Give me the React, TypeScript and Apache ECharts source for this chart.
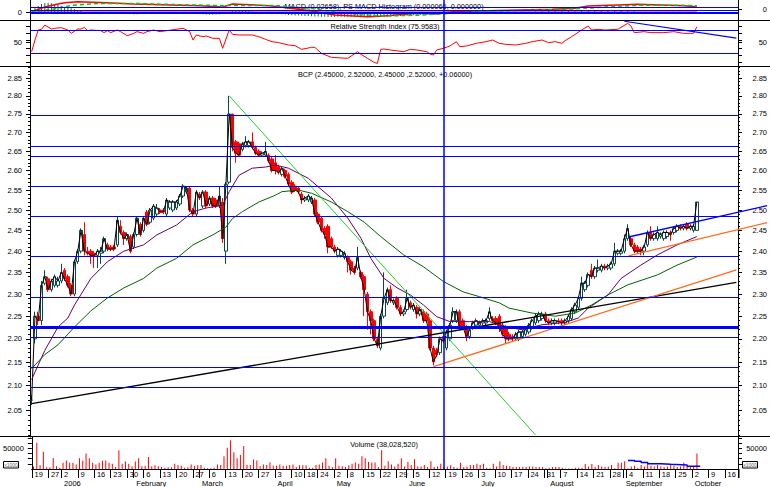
import React, { useEffect, useRef } from 'react';
import * as echarts from 'echarts';

// ---------- categories ----------
const FIRST_DAY = [2005, 11, 19];
const HOLIDAYS = ['2005-12-26', '2006-04-14', '2006-04-17', '2006-05-01'];
const N_SLOTS = 215;
const N_SLOTS_WIDE = 224;
const MONTH_NAMES = ['January', 'February', 'March', 'April', 'May', 'June', 'July', 'August', 'September', 'October', 'November', 'December'];

// ---------- tick labels ----------
const PRICE_TICKS = [2.05, 2.10, 2.15, 2.20, 2.25, 2.30, 2.35, 2.40, 2.45, 2.50, 2.55, 2.60, 2.65, 2.70, 2.75, 2.80, 2.85];
const PRICE_MIN = 1.9958;
const PRICE_MAX = 2.8813;
const RSI_TICKS = [15, 27.5, 40, 50, 52.5, 65, 77.5];
const VOL_TICKS = [12500, 25000, 37500, 50000, 62500, 75000];

// ---------- titles ----------
const TITLE_MACD = 'MACD (0.02658), PS MACD Histogram (0.000066, 0.000000)';
const TITLE_RSI = 'Relative Strength Index (75.9583)';
const TITLE_MAIN = 'BCP (2.45000, 2.52000, 2.45000 ,2.52000, +0.06000)';
const TITLE_VOL = 'Volume (38,028,520)';

// ---------- price candles [open, close, low, high] ----------
const candles = [
  [2.07, 2.07, 2.06, 2.08], [2.20, 2.25, 2.19, 2.26], [2.25, 2.24, 2.23, 2.26], [2.24, 2.32, 2.23, 2.33], [2.325, 2.34, 2.32, 2.355],
  [2.335, 2.31, 2.305, 2.34], [2.31, 2.33, 2.305, 2.335], [2.32, 2.34, 2.315, 2.345], [2.32, 2.33, 2.315, 2.34], [2.33, 2.35, 2.325, 2.37],
  [2.355, 2.335, 2.33, 2.36], [2.34, 2.32, 2.315, 2.345], [2.32, 2.30, 2.295, 2.325], [2.30, 2.375, 2.295, 2.38], [2.375, 2.40, 2.37, 2.405],
  [2.40, 2.45, 2.395, 2.455], [2.44, 2.40, 2.39, 2.47], [2.40, 2.395, 2.39, 2.41], [2.40, 2.39, 2.37, 2.405], [2.395, 2.39, 2.36, 2.40],
  [2.39, 2.40, 2.36, 2.405], [2.395, 2.40, 2.37, 2.41], [2.40, 2.43, 2.395, 2.435], [2.415, 2.405, 2.40, 2.42], [2.41, 2.405, 2.40, 2.415],
  [2.41, 2.405, 2.40, 2.415], [2.415, 2.475, 2.41, 2.485], [2.46, 2.445, 2.44, 2.475], [2.445, 2.43, 2.415, 2.45], [2.43, 2.44, 2.425, 2.445],
  [2.435, 2.40, 2.395, 2.44], [2.41, 2.44, 2.405, 2.445], [2.44, 2.48, 2.435, 2.485], [2.465, 2.44, 2.435, 2.47], [2.45, 2.48, 2.445, 2.485],
  [2.495, 2.465, 2.46, 2.50], [2.47, 2.50, 2.465, 2.505], [2.48, 2.51, 2.475, 2.515], [2.49, 2.505, 2.485, 2.515], [2.50, 2.495, 2.49, 2.505],
  [2.50, 2.495, 2.49, 2.505], [2.49, 2.525, 2.485, 2.53], [2.505, 2.52, 2.50, 2.525], [2.50, 2.52, 2.495, 2.525], [2.505, 2.52, 2.50, 2.525],
  [2.515, 2.535, 2.51, 2.54], [2.535, 2.56, 2.53, 2.565], [2.545, 2.555, 2.54, 2.56], [2.555, 2.50, 2.495, 2.56], [2.50, 2.49, 2.485, 2.505],
  [2.49, 2.545, 2.485, 2.55], [2.54, 2.53, 2.525, 2.545], [2.51, 2.545, 2.505, 2.55], [2.545, 2.51, 2.505, 2.55], [2.515, 2.53, 2.51, 2.535],
  [2.53, 2.51, 2.505, 2.535], [2.525, 2.51, 2.505, 2.53], [2.51, 2.535, 2.505, 2.56], [2.52, 2.43, 2.42, 2.53], [2.40, 2.565, 2.37, 2.57],
  [2.57, 2.75, 2.565, 2.80], [2.75, 2.66, 2.65, 2.75], [2.675, 2.645, 2.62, 2.68], [2.67, 2.64, 2.635, 2.675], [2.655, 2.67, 2.65, 2.675],
  [2.665, 2.675, 2.66, 2.69], [2.665, 2.675, 2.66, 2.68], [2.675, 2.66, 2.655, 2.70], [2.66, 2.645, 2.64, 2.665], [2.65, 2.64, 2.635, 2.655],
  [2.64, 2.645, 2.635, 2.65], [2.64, 2.65, 2.635, 2.675], [2.64, 2.625, 2.62, 2.645], [2.63, 2.60, 2.595, 2.635], [2.62, 2.60, 2.59, 2.64],
  [2.61, 2.595, 2.59, 2.615], [2.59, 2.605, 2.585, 2.61], [2.60, 2.585, 2.58, 2.605], [2.59, 2.565, 2.56, 2.595], [2.57, 2.545, 2.54, 2.575],
  [2.56, 2.55, 2.545, 2.565], [2.555, 2.545, 2.54, 2.56], [2.54, 2.525, 2.515, 2.545], [2.525, 2.53, 2.52, 2.535], [2.525, 2.535, 2.52, 2.54],
  [2.52, 2.53, 2.515, 2.535], [2.525, 2.49, 2.485, 2.53], [2.49, 2.47, 2.465, 2.495], [2.48, 2.45, 2.445, 2.485], [2.455, 2.44, 2.43, 2.46],
  [2.46, 2.41, 2.395, 2.465], [2.43, 2.41, 2.405, 2.435], [2.41, 2.40, 2.395, 2.415], [2.39, 2.405, 2.385, 2.41], [2.39, 2.40, 2.385, 2.405],
  [2.385, 2.395, 2.38, 2.40], [2.385, 2.375, 2.35, 2.39], [2.375, 2.355, 2.345, 2.38], [2.36, 2.35, 2.345, 2.365], [2.36, 2.385, 2.355, 2.41],
  [2.35, 2.34, 2.335, 2.355], [2.34, 2.31, 2.25, 2.345], [2.30, 2.26, 2.22, 2.305], [2.26, 2.24, 2.21, 2.265], [2.24, 2.20, 2.195, 2.245],
  [2.20, 2.185, 2.18, 2.205], [2.18, 2.25, 2.175, 2.255], [2.25, 2.29, 2.245, 2.35], [2.28, 2.31, 2.275, 2.315], [2.31, 2.285, 2.28, 2.32],
  [2.28, 2.285, 2.275, 2.29], [2.29, 2.27, 2.265, 2.295], [2.27, 2.255, 2.25, 2.275], [2.255, 2.26, 2.25, 2.265], [2.265, 2.29, 2.26, 2.31],
  [2.28, 2.27, 2.265, 2.285], [2.265, 2.275, 2.26, 2.28], [2.27, 2.255, 2.245, 2.275], [2.255, 2.265, 2.25, 2.27], [2.26, 2.24, 2.235, 2.265],
  [2.255, 2.24, 2.235, 2.26], [2.24, 2.18, 2.175, 2.245], [2.18, 2.15, 2.143, 2.185], [2.175, 2.165, 2.16, 2.18], [2.17, 2.20, 2.165, 2.205],
  [2.205, 2.195, 2.19, 2.21], [2.18, 2.215, 2.175, 2.22], [2.20, 2.23, 2.195, 2.235], [2.24, 2.26, 2.235, 2.27], [2.24, 2.26, 2.235, 2.265],
  [2.26, 2.225, 2.22, 2.265], [2.24, 2.225, 2.22, 2.245], [2.225, 2.205, 2.195, 2.23], [2.205, 2.22, 2.20, 2.225], [2.225, 2.235, 2.22, 2.24],
  [2.23, 2.24, 2.225, 2.245], [2.23, 2.235, 2.225, 2.24], [2.235, 2.24, 2.23, 2.245], [2.235, 2.24, 2.23, 2.245], [2.245, 2.26, 2.24, 2.27],
  [2.245, 2.24, 2.235, 2.25], [2.245, 2.235, 2.23, 2.25], [2.25, 2.225, 2.215, 2.255], [2.23, 2.21, 2.205, 2.235], [2.225, 2.20, 2.19, 2.23],
  [2.21, 2.20, 2.195, 2.215], [2.205, 2.20, 2.195, 2.21], [2.20, 2.21, 2.195, 2.215], [2.20, 2.215, 2.195, 2.22], [2.205, 2.215, 2.20, 2.22],
  [2.21, 2.22, 2.205, 2.225], [2.215, 2.23, 2.21, 2.235], [2.225, 2.24, 2.22, 2.245], [2.235, 2.25, 2.23, 2.255], [2.24, 2.255, 2.235, 2.26],
  [2.245, 2.255, 2.24, 2.26], [2.255, 2.24, 2.235, 2.26], [2.24, 2.235, 2.23, 2.245], [2.235, 2.24, 2.23, 2.245], [2.235, 2.24, 2.23, 2.245],
  [2.24, 2.238, 2.232, 2.245], [2.24, 2.235, 2.23, 2.245], [2.235, 2.24, 2.23, 2.245], [2.24, 2.25, 2.235, 2.255], [2.245, 2.265, 2.24, 2.27],
  [2.26, 2.275, 2.255, 2.28], [2.27, 2.29, 2.265, 2.295], [2.29, 2.325, 2.285, 2.34], [2.31, 2.325, 2.305, 2.33], [2.32, 2.345, 2.315, 2.35],
  [2.355, 2.34, 2.335, 2.37], [2.34, 2.36, 2.335, 2.365], [2.355, 2.36, 2.35, 2.38], [2.355, 2.365, 2.35, 2.37], [2.365, 2.36, 2.355, 2.37],
  [2.36, 2.365, 2.355, 2.37], [2.36, 2.37, 2.355, 2.375], [2.37, 2.40, 2.365, 2.42], [2.395, 2.40, 2.39, 2.405], [2.395, 2.40, 2.39, 2.405],
  [2.40, 2.43, 2.395, 2.44], [2.43, 2.455, 2.425, 2.465], [2.43, 2.415, 2.41, 2.435], [2.415, 2.40, 2.395, 2.42], [2.41, 2.40, 2.395, 2.415],
  [2.405, 2.40, 2.39, 2.41], [2.40, 2.41, 2.39, 2.415], [2.415, 2.445, 2.41, 2.45], [2.445, 2.43, 2.425, 2.46], [2.43, 2.44, 2.425, 2.445],
  [2.43, 2.445, 2.425, 2.46], [2.435, 2.44, 2.43, 2.445], [2.43, 2.445, 2.425, 2.45], [2.435, 2.445, 2.43, 2.45], [2.445, 2.44, 2.425, 2.45],
  [2.445, 2.455, 2.44, 2.46], [2.45, 2.46, 2.445, 2.465], [2.46, 2.455, 2.45, 2.465], [2.455, 2.46, 2.45, 2.465], [2.465, 2.455, 2.45, 2.47],
  [2.455, 2.46, 2.45, 2.465], [2.45, 2.46, 2.445, 2.465], [2.45, 2.52, 2.45, 2.52],
];

// ---------- volume (x1000) ----------
const volumes = [
  6000, 64000, 9000, 42000, 4000, 4000, 27000, 7000, 3000, 15000,
  21000, 15000, 15000, 11000, 26000, 20000, 38000, 26000, 15000, 11000,
  15000, 20000, 21000, 15000, 13000, 5000, 46000, 13000, 18000, 13000,
  7000, 18000, 26000, 7000, 8000, 29000, 7000, 9000, 7000, 5000,
  3000, 4000, 4000, 13000, 9000, 8000, 3000, 4000, 11000, 8000,
  9000, 10000, 3000, 2000, 2000, 3000, 11000, 10000, 31000, 52000,
  70000, 41000, 26000, 34000, 56000, 10000, 10000, 23000, 21000, 7000,
  11000, 10000, 16000, 8000, 8000, 11000, 8000, 8000, 10000, 11000,
  5000, 9000, 9000, 9000, 3000, 3000, 10000, 11000, 16000, 26000,
  8000, 5000, 26000, 8000, 7000, 5000, 9000, 13000, 16000, 13000,
  31000, 26000, 17000, 16000, 16000, 5000, 46000, 8000, 19000, 11000,
  6000, 13000, 26000, 6000, 17000, 10000, 24000, 6000, 6000, 10000,
  5000, 19000, 5000, 6000, 13000, 5000, 6000, 9000, 5000, 3000,
  15000, 5000, 6000, 10000, 10000, 13000, 10000, 13000, 3000, 2000,
  13000, 6000, 19000, 10000, 8000, 7000, 5000, 5000, 5000, 5000,
  5000, 6000, 6000, 5000, 5000, 5000, 2000, 3000, 5000, 5000,
  5000, 3000, 1000, 1000, 1000, 3000, 3000, 3000, 12000, 6000,
  12000, 5000, 10000, 6000, 5000, 6000, 10000, 2000, 15000, 15000,
  19000, 2000, 6000, 8000, 3000, 10000, 6000, 15000, 8000, 6000,
  10000, 6000, 5000, 6000, 10000, 8000, 5000, 6000, 15000, 6000,
  5000, 6000, 38028,
];
const volTrend = [[181, 21000], [183, 19000], [185, 16000], [187, 13000], [191, 11500], [194, 10000], [199, 7000], [203, 7000]];

// ---------- moving averages [index, price] ----------
const purpleMA = [[0, 2.113], [4, 2.175], [8, 2.226], [11, 2.246], [13, 2.275], [18, 2.336], [23, 2.375], [28, 2.40], [34, 2.415], [38, 2.439], [44, 2.463], [49, 2.496], [53, 2.505], [58, 2.512], [60, 2.546], [63, 2.588], [67, 2.606], [71, 2.609], [74, 2.614], [78, 2.606], [84, 2.58], [91, 2.53], [96, 2.48], [100, 2.431], [103, 2.383], [107, 2.336], [111, 2.314], [115, 2.298], [119, 2.275], [123, 2.249], [127, 2.238], [133, 2.238], [139, 2.238], [145, 2.225], [149, 2.22], [155, 2.231], [162, 2.236], [166, 2.246], [169, 2.268], [175, 2.298], [179, 2.336], [185, 2.367], [190, 2.391], [196, 2.415], [202, 2.435]];
const greenMA = [[0, 2.136], [4, 2.166], [8, 2.187], [13, 2.226], [18, 2.262], [23, 2.291], [28, 2.314], [34, 2.336], [38, 2.36], [44, 2.383], [49, 2.415], [55, 2.439], [59, 2.458], [61, 2.479], [64, 2.496], [69, 2.52], [74, 2.537], [76, 2.546], [81, 2.55], [85, 2.542], [91, 2.52], [96, 2.496], [101, 2.47], [106, 2.435], [113, 2.391], [119, 2.363], [125, 2.329], [131, 2.305], [136, 2.294], [142, 2.28], [145, 2.268], [152, 2.257], [159, 2.25], [165, 2.257], [170, 2.275], [175, 2.298], [181, 2.321], [190, 2.344], [196, 2.367], [202, 2.386]];

// ---------- drawn trend lines [index, price] ----------
const greenTrend = [[60, 2.80], [153, 2.00]];
const blackTrend = [[0, 2.063], [214, 2.327]];
const orangeLower = [[122, 2.14], [214, 2.356]];
const orangeUpper = [[181, 2.389], [223, 2.469]];
const blueUpper = [[181, 2.434], [223, 2.511]];
const PRICE_LEVELS = [2.750, 2.677, 2.638, 2.558, 2.488, 2.393, 2.298, 2.235, 2.200, 2.144, 2.087];
const THICK_LEVEL = 2.235;
const MARKER_INDEX = 125;

// ---------- RSI ----------
const rsi = [[0, 33.5], [1, 53.4], [2, 70.5], [3, 71.7], [4, 79], [6, 72.2], [7, 73.4], [9, 74.5], [11, 70.5], [12, 64.8], [14, 72.2], [15, 72.2], [16, 75], [17, 69.4], [18, 70.5], [21, 69.4], [22, 66], [23, 69.4], [24, 66], [26, 70.5], [27, 67.7], [29, 60.8], [31, 64.8], [32, 67.7], [34, 64.8], [35, 67.7], [37, 70.5], [39, 67.7], [41, 69.4], [46, 73.4], [48, 67.7], [49, 53.4], [50, 62], [52, 59.1], [53, 60.3], [55, 56.3], [57, 56.3], [58, 39.2], [60, 70.5], [61, 63.1], [63, 62], [67, 62], [69, 59.1], [71, 54.6], [73, 50.6], [75, 48.9], [78, 44.9], [80, 43.7], [82, 37.5], [85, 40.9], [86, 40.9], [88, 30.6], [90, 26.1], [91, 23.8], [96, 22.1], [99, 33.5], [100, 28.9], [102, 22.1], [104, 15.2], [105, 13.5], [106, 37.5], [107, 38], [109, 36.3], [113, 33.5], [115, 37.5], [117, 36.3], [120, 33.5], [121, 29.5], [122, 27.8], [123, 36.3], [125, 39.2], [127, 43.2], [129, 50.6], [130, 42], [132, 43.2], [135, 47.7], [138, 50.6], [140, 53.4], [142, 47.7], [144, 46], [147, 44.9], [150, 47.7], [152, 50.6], [155, 53.4], [157, 48.9], [159, 50.6], [161, 47.7], [162, 52.3], [164, 59.1], [167, 70.5], [169, 77.4], [170, 70.5], [172, 71.7], [174, 70.5], [178, 71.7], [181, 81.9], [182, 77.4], [183, 66], [186, 67.7], [188, 66], [192, 66], [195, 67.7], [198, 64.8], [200, 64.8], [201, 64.8], [202, 75.96]];
const rsiTrend = [[180, 85.5], [214, 56.7]];
const RSI_LEVELS = [70, 30];

// ---------- MACD ----------
const macdLine = [[0, 0.0024], [4, 0.0215], [8, 0.0337], [10, 0.039], [14, 0.043], [21, 0.040], [31, 0.0337], [42, 0.030], [51, 0.0268], [58, 0.0215], [61, 0.0337], [72, 0.0268], [75, 0.0227], [85, 0.0053], [92, -0.011], [102, -0.0179], [107, -0.015], [117, -0.004], [123, -0.007], [128, 0.0024], [138, 0.0065], [158, 0.0122], [165, 0.0162], [169, 0.0256], [178, 0.0296], [184, 0.0325], [198, 0.0268], [202, 0.0227]];
const macdSignal = [[0, 0.0], [6, 0.012], [12, 0.028], [20, 0.036], [31, 0.036], [45, 0.031], [58, 0.027], [65, 0.028], [75, 0.027], [85, 0.015], [92, 0.002], [100, -0.01], [107, -0.015], [117, -0.012], [125, -0.006], [135, 0.002], [150, 0.008], [162, 0.012], [170, 0.018], [178, 0.025], [186, 0.029], [195, 0.029], [202, 0.027]];
const macdHist = [
  [1, 0.020], [2, 0.026], [3, 0.034], [4, 0.037], [5, 0.039], [6, 0.037], [7, 0.034], [8, 0.031], [9, 0.027], [10, 0.023], [11, 0.020], [12, 0.016], [13, 0.012], [14, 0.009], [15, 0.005],
  [28, -0.003], [29, -0.005], [30, -0.007], [31, -0.008], [32, -0.008], [33, -0.007], [34, -0.005], [35, -0.003],
  [50, -0.004], [51, -0.006], [52, -0.008], [53, -0.009], [54, -0.010], [55, -0.010], [56, -0.009], [57, -0.008], [58, -0.007], [59, -0.005],
  [61, 0.004], [62, 0.006], [63, 0.007], [64, 0.007], [65, 0.006], [66, 0.005], [67, 0.003],
  [73, -0.004], [74, -0.006], [75, -0.007], [76, -0.008], [77, -0.009], [78, -0.011], [79, -0.012], [80, -0.013], [81, -0.013], [82, -0.014], [83, -0.015], [84, -0.015], [85, -0.016], [86, -0.017], [87, -0.017], [88, -0.018], [89, -0.018], [90, -0.019], [91, -0.019], [92, -0.019], [93, -0.018], [94, -0.018], [95, -0.018], [96, -0.018], [97, -0.018], [98, -0.018], [99, -0.019], [100, -0.02], [101, -0.02], [102, -0.02], [103, -0.02], [104, -0.02], [105, -0.02], [106, -0.019], [107, -0.018],
  [108, -0.017], [109, -0.017], [110, -0.016], [111, -0.016], [112, -0.015], [113, -0.014], [114, -0.014], [115, -0.013], [116, -0.012], [117, -0.012], [118, -0.011], [119, -0.010], [120, -0.010], [121, -0.009], [122, -0.008], [123, -0.007], [124, -0.006], [125, -0.004],
  [153, 0.003], [155, 0.004], [157, 0.005], [159, 0.005], [161, 0.006], [163, 0.006], [165, 0.007], [167, 0.007], [169, 0.008], [171, 0.007], [173, 0.007], [175, 0.006], [177, 0.006], [179, 0.005], [181, 0.005], [183, 0.004],
];
const macdZero = [[0, 0], [202, 0]];
const MACD_LEVELS = [0.0203, 0.0093, 0.004];

// ---------- helpers ----------
const FONT = 'Liberation Sans, Arial, sans-serif';
const L = Math.log;
const PLOT_LEFT = 30;
const PLOT_WIDTH = 709;

function buildDates(n: number): string[] {
  const out: string[] = [];
  const d = new Date(Date.UTC(FIRST_DAY[0], FIRST_DAY[1], FIRST_DAY[2]));
  while (out.length < n) {
    const wd = d.getUTCDay();
    const s = d.toISOString().slice(0, 10);
    if (wd !== 0 && wd !== 6 && !HOLIDAYS.includes(s)) out.push(s);
    d.setUTCDate(d.getUTCDate() + 1);
  }
  return out;
}

function buildOption() {
  const dates = buildDates(N_SLOTS);
  const datesWide = buildDates(N_SLOTS_WIDE);
  const dow = dates.map((s) => new Date(s + 'T00:00:00Z').getUTCDay());
  const weekStart = dates.map((_, i) => i === 0 || dow[i] < dow[i - 1]);
  const monthStart = dates.map((s, i) => i > 0 && s.slice(5, 7) !== dates[i - 1].slice(5, 7));
  const monthLabel = (s: string) => {
    const m = Number(s.slice(5, 7)) - 1;
    return m === 0 ? s.slice(0, 4) : MONTH_NAMES[m];
  };

  const lnPairs = (arr: number[][]) => arr.map(([i, p]) => [i, L(p)]);
  const minorTicks: number[] = [];
  for (let c = 200; c <= 288; c++) minorTicks.push(L(c / 100));

  const black = '#000';
  const blue = '#0000ff';
  const lbl = { fontSize: 7.5, color: black, fontFamily: FONT };

  const hiddenX = (g: number, data: string[]) => ({
    type: 'category', gridIndex: g, data, boundaryGap: true,
    axisLine: { show: false }, axisTick: { show: false }, axisLabel: { show: false }, splitLine: { show: false },
  });

  const yAxis = (g: number, pos: string, min: number, max: number, ticks: number[], labels: number[], fmt: (v: number) => string, tickLen = 4, showLine = true) => ({
    type: 'value', gridIndex: g, position: pos, min, max,
    axisLine: { show: showLine, lineStyle: { color: black, width: 1 } },
    splitLine: { show: false },
    axisTick: ticks.length ? { show: true, length: tickLen, lineStyle: { color: black }, customValues: ticks } : { show: false },
    axisLabel: labels.length
      ? { show: true, customValues: labels, formatter: fmt, ...lbl, margin: pos === 'left' ? 8 : 29, align: 'right' }
      : { show: false },
  });

  const mk = (data: any[]) => ({
    silent: true, symbol: ['none', 'none'], label: { show: false }, animation: false,
    lineStyle: { color: blue, width: 1, type: 'solid' }, data,
  });
  const vLine = { xAxis: MARKER_INDEX, lineStyle: { color: blue, width: 1.5, type: 'solid' } };

  const priceFmt = (v: number) => Math.exp(v).toFixed(2);
  const lnTicks = PRICE_TICKS.map(L);

  const lineS = (x: number, y: number, data: any[], color: string, width = 1, extra: any = {}) => ({
    type: 'line', xAxisIndex: x, yAxisIndex: y, data, showSymbol: false, symbol: 'none', silent: true,
    lineStyle: { color, width }, animation: false, ...extra,
  });

  const slot = PLOT_WIDTH / N_SLOTS;

  return {
    animation: false,
    backgroundColor: '#ffffff',
    textStyle: { fontFamily: FONT },
    grid: [
      { left: PLOT_LEFT, top: 0, width: PLOT_WIDTH, height: 21 },
      { left: PLOT_LEFT, top: 21, width: PLOT_WIDTH, height: 46 },
      { left: PLOT_LEFT, top: 67, width: PLOT_WIDTH, height: 370 },
      { left: PLOT_LEFT, top: 437, width: PLOT_WIDTH, height: 32 },
      // same price scale, widened so drawn lines can run past the right axis
      { left: PLOT_LEFT, top: 67, width: slot * N_SLOTS_WIDE, height: 370 },
    ],
    xAxis: [
      hiddenX(0, dates), hiddenX(1, dates), hiddenX(2, dates),
      {
        type: 'category', gridIndex: 3, position: 'bottom', data: dates, boundaryGap: true,
        axisLine: { show: true, lineStyle: { color: black, width: 1 } },
        axisTick: { show: true, interval: (i: number) => weekStart[i], length: 9, lineStyle: { color: black } },
        axisLabel: { show: true, interval: (i: number) => weekStart[i], formatter: (v: string) => String(Number(v.slice(8))), align: 'left', margin: 1, padding: [0, 0, 0, 1], ...lbl },
        splitLine: { show: false },
      },
      {
        type: 'category', gridIndex: 3, position: 'bottom', offset: 9, data: dates, boundaryGap: true,
        axisLine: { show: true, lineStyle: { color: black, width: 1 } },
        axisTick: { show: true, interval: (i: number) => monthStart[i], length: 9, lineStyle: { color: black } },
        axisLabel: { show: true, interval: (i: number) => monthStart[i], formatter: (v: string) => monthLabel(v), align: 'left', margin: 1, padding: [0, 0, 0, 1], ...lbl },
        splitLine: { show: false },
      },
      hiddenX(4, datesWide),
    ],
    yAxis: [
      yAxis(0, 'left', -0.0353, 0.05, [0], [0], () => '0'),
      yAxis(0, 'right', -0.05, 0.0385, [0], [0], () => '0'),
      yAxis(1, 'left', 7.3, 85.9, RSI_TICKS, [50], () => '50'),
      yAxis(1, 'right', 7.3, 85.9, RSI_TICKS, [50], () => '50'),
      yAxis(2, 'left', L(PRICE_MIN), L(PRICE_MAX), lnTicks, lnTicks, priceFmt, 4),
      yAxis(2, 'left', L(PRICE_MIN), L(PRICE_MAX), minorTicks, [], priceFmt, 2, false),
      yAxis(2, 'right', L(PRICE_MIN), L(PRICE_MAX), lnTicks, lnTicks, priceFmt, 4),
      yAxis(2, 'right', L(PRICE_MIN), L(PRICE_MAX), minorTicks, [], priceFmt, 2, false),
      yAxis(3, 'left', 0, 78000, VOL_TICKS, [50000], (v) => String(v)),
      yAxis(3, 'right', 0, 78000, VOL_TICKS, [50000], (v) => String(v)),
      yAxis(4, 'left', L(PRICE_MIN), L(PRICE_MAX), [], [], priceFmt, 0, false),
    ],
    series: [
      // MACD panel
      {
        type: 'bar', xAxisIndex: 0, yAxisIndex: 0, data: macdHist, barWidth: 1, silent: true,
        itemStyle: { color: '#007a00' }, animation: false,
        markLine: mk([...MACD_LEVELS.map((v, i) => ({ yAxis: v, lineStyle: { color: blue, width: i === 2 ? 2 : 1, type: 'solid' } })), vLine]),
      },
      lineS(0, 0, macdZero, '#ff0000', 1.5),
      lineS(0, 0, macdLine, '#ff0000', 1.5),
      lineS(0, 0, macdSignal, '#00cc00', 1.5, { lineStyle: { color: '#00cc00', width: 1.5, type: [4, 3] } }),
      // RSI panel
      lineS(1, 2, rsi, '#ff0000', 1, {
        markLine: mk([...RSI_LEVELS.map((v) => ({ yAxis: v })), vLine]),
      }),
      lineS(1, 2, rsiTrend, blue, 1.2),
      // Main panel
      {
        type: 'candlestick', xAxisIndex: 2, yAxisIndex: 4, silent: true, animation: false,
        data: candles.map((c) => c.map(L)),
        barWidth: 3,
        itemStyle: { color: '#ffffff', color0: '#ff0000', borderColor: '#0f4646', borderColor0: '#ff0000', borderWidth: 1 },
        markLine: mk([
          ...PRICE_LEVELS.map((p) => ({ yAxis: L(p), lineStyle: { color: blue, width: p === THICK_LEVEL ? 3 : 1, type: 'solid' } })),
          vLine,
        ]),
      },
      lineS(2, 4, candles.map((c) => L(c[1])), '#000000', 1),
      lineS(2, 4, lnPairs(purpleMA), '#660066', 1),
      lineS(2, 4, lnPairs(greenMA), '#006400', 1),
      lineS(2, 4, lnPairs(greenTrend), '#22cc22', 1),
      lineS(2, 4, lnPairs(blackTrend), '#000000', 1.3),
      lineS(2, 4, lnPairs(orangeLower), '#ff6a1a', 1.3),
      lineS(5, 10, lnPairs(orangeUpper), '#ff6a1a', 1.3),
      lineS(5, 10, lnPairs(blueUpper), blue, 1.3),
      // Volume panel
      {
        type: 'bar', xAxisIndex: 3, yAxisIndex: 8, data: volumes, barWidth: 1, silent: true,
        itemStyle: { color: '#ff0000' }, animation: false,
        markLine: mk([vLine]),
      },
      lineS(3, 8, volTrend, blue, 1.5, { step: 'end' }),
    ],
    graphic: [
      { type: 'line', silent: true, shape: { x1: 0, y1: 20.5, x2: 770, y2: 20.5 }, style: { stroke: black, lineWidth: 1 } },
      { type: 'line', silent: true, shape: { x1: 0, y1: 66.5, x2: 770, y2: 66.5 }, style: { stroke: black, lineWidth: 1 } },
      { type: 'line', silent: true, shape: { x1: 0, y1: 436.5, x2: 770, y2: 436.5 }, style: { stroke: black, lineWidth: 1 } },
      { type: 'line', silent: true, shape: { x1: 739, y1: 469, x2: 739, y2: 478 }, style: { stroke: black, lineWidth: 1 } },
      { type: 'text', silent: true, x: 384, y: 6, style: { text: TITLE_MACD, fill: black, fontSize: 7.3, fontFamily: FONT, align: 'center', verticalAlign: 'middle' } },
      { type: 'text', silent: true, x: 385, y: 26, style: { text: TITLE_RSI, fill: black, fontSize: 7.3, fontFamily: FONT, align: 'center', verticalAlign: 'middle' } },
      { type: 'text', silent: true, x: 385, y: 74, style: { text: TITLE_MAIN, fill: black, fontSize: 7.3, fontFamily: FONT, align: 'center', verticalAlign: 'middle' } },
      { type: 'text', silent: true, x: 384, y: 444, style: { text: TITLE_VOL, fill: black, fontSize: 7.3, fontFamily: FONT, align: 'center', verticalAlign: 'middle' } },
      { type: 'rect', silent: true, shape: { x: 3.5, y: 461.5, width: 15, height: 6.5 }, style: { stroke: black, fill: '#fff', lineWidth: 1 } },
      { type: 'text', silent: true, x: 11, y: 465, style: { text: 'x1000', fill: '#666', fontSize: 5, fontFamily: FONT, align: 'center', verticalAlign: 'middle' } },
      { type: 'rect', silent: true, shape: { x: 742.5, y: 461.5, width: 15, height: 6.5 }, style: { stroke: black, fill: '#fff', lineWidth: 1 } },
      { type: 'text', silent: true, x: 750, y: 465, style: { text: 'x1000', fill: '#666', fontSize: 5, fontFamily: FONT, align: 'center', verticalAlign: 'middle' } },
    ],
  };
}

export default function App() {
  const ref = useRef<HTMLDivElement>(null);
  useEffect(() => {
    if (!ref.current) return;
    const chart = echarts.init(ref.current, null, { renderer: 'svg' });
    chart.setOption(buildOption() as any);
    return () => chart.dispose();
  }, []);
  return <div ref={ref} style={{ position: 'fixed', left: 0, top: 0, width: 770, height: 487, background: '#fff' }} />;
}
